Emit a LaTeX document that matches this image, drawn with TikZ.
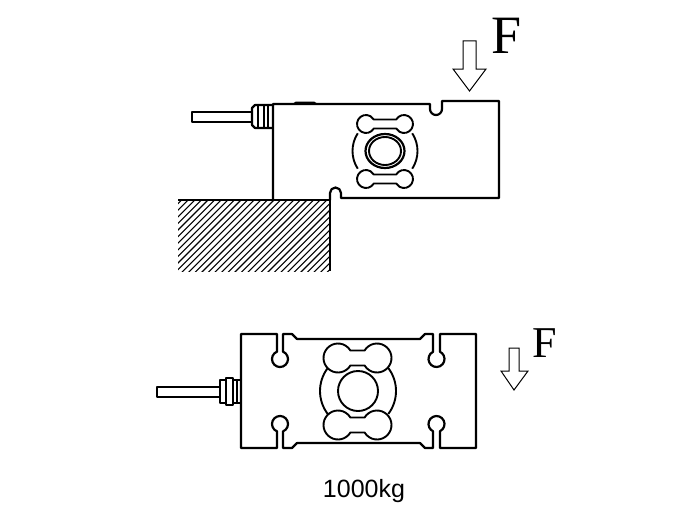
\documentclass[tikz,border=0pt]{standalone}
\usepackage{fontspec}
\setmainfont{Liberation Serif}
\newfontfamily\labelfont{Liberation Sans}
\tikzset{
  outline/.style={line width=2.2pt, color=black, line join=round},
  detail/.style={line width=1.9pt, color=black, line join=round},
  hatchline/.style={line width=1.1pt, color=black},
  forcearrow/.style={line width=1pt, color=black, line join=miter},
}
% dog bone window: left lobe x, right lobe x, centre y, lobe radius, lobe half angle
\newcommand{\bonewindow}[5]{
\draw[detail] (#1,#3) ++(-#5:#4) -- ($(#2,#3)+(180+#5:#4)$) arc[start angle=180+#5, end angle=540-#5, radius=#4]
  -- ($(#1,#3)+(#5:#4)$) arc[start angle=#5, end angle=360-#5, radius=#4] -- cycle;
}
\usetikzlibrary{calc}
\begin{document}
\begin{tikzpicture}[x=1pt,y=-1pt]
\useasboundingbox (0,0) rectangle (700,519);
% upper view: ground
\begin{scope}
\clip (178,200) rectangle (330,271);
\foreach \hx in {0,6.6,...,240}
  \draw[hatchline] (100+\hx,275) -- (100+\hx+80,195);
\end{scope}
\draw[outline] (178,200) -- (330,200) -- (330,271);
% upper view: body
\draw[outline] (273,200) -- (273,104) -- (430,104) -- (430,109) arc[start angle=180, end angle=0, radius=6] -- (442,101) -- (499,101) -- (499,198) -- (341,198) -- (341,193) arc[start angle=0, end angle=-180, radius=5.5] -- (330,200);
\fill (292,104) -- (296,101.5) -- (314,101.5) -- (318,104) -- cycle;
% upper view: cable and gland
\draw[outline] (252,112) -- (192,112) -- (192,122) -- (252,122);
\draw[outline] (273,105) -- (255,105) -- (252,108) -- (252,125) -- (255,128) -- (273,128);
\draw[detail] (258,105) -- (258,128);
\draw[detail] (264,105) -- (264,128);
\draw[detail] (268,105) -- (268,128);
% upper view: windows
\bonewindow{366}{404}{124}{9}{30}
\bonewindow{366}{404}{179}{9}{30}
\draw[detail] (385,151) ++(33:32.5) arc[start angle=33, end angle=-33, radius=32.5];
\draw[detail] (385,151) ++(147:32.5) arc[start angle=147, end angle=213, radius=32.5];
\draw[outline] (385,151) ellipse[x radius=19.5, y radius=17];
\draw[detail] (385,151) ellipse[x radius=16, y radius=14];
% upper view: force
\draw[forcearrow] (463,41) -- (476,41) -- (476,69) -- (486,69) -- (469.5,91) -- (453,69) -- (463,69) -- cycle;
\node[inner sep=0pt, anchor=base west, font=\fontsize{54}{54}\selectfont] (forcetop) at (491,53) {F};
% lower view: body
\draw[outline] (241,334) -- (277,334) -- (277,351.6) arc[start angle=248, end angle=-68, radius=8] -- (283,334) -- (292,334) -- (297,339) -- (420,339) -- (425,334) -- (433,334) -- (433,351.8) arc[start angle=244, end angle=-64, radius=8] -- (440,334) -- (476,334) -- (476,448) -- (440,448) -- (440,431.2) arc[start angle=64, end angle=-244, radius=8] -- (433,448) -- (425,448) -- (420,443) -- (297,443) -- (292,448) -- (283,448) -- (283,431.4) arc[start angle=68, end angle=-248, radius=8] -- (277,448) -- (241,448) -- cycle;
% lower view: cable and gland
\draw[outline] (220,387) -- (157,387) -- (157,397) -- (220,397);
\draw[outline] (241,380) -- (233,380) -- (233,378) -- (226,378) -- (226,380) -- (220,380) -- (220,403) -- (226,403) -- (226,405) -- (233,405) -- (233,403) -- (241,403);
\draw[detail] (226,380) -- (226,403);
\draw[detail] (233,380) -- (233,403);
\draw[detail] (237,380) -- (237,403);
% lower view: windows
\bonewindow{338}{377}{358}{14.5}{31}
\bonewindow{338}{377}{425}{14.5}{31}
\draw[detail] (358,391) ++(37:38) arc[start angle=37, end angle=-37, radius=38];
\draw[detail] (358,391) ++(143:38) arc[start angle=143, end angle=217, radius=38];
\draw[detail] (358,391) circle[radius=20];
% lower view: force
\draw[forcearrow] (509,348) -- (519,348) -- (519,371) -- (528,371) -- (514,390) -- (501,371) -- (509,371) -- cycle;
\node[inner sep=0pt, anchor=base west, font=\fontsize{44}{44}\selectfont] (forcelow) at (532,357) {F};
\node[inner sep=0pt, anchor=base, font=\labelfont\fontsize{25}{25}\selectfont] (capacity) at (364,497) {1000kg};
\end{tikzpicture}
\end{document}
